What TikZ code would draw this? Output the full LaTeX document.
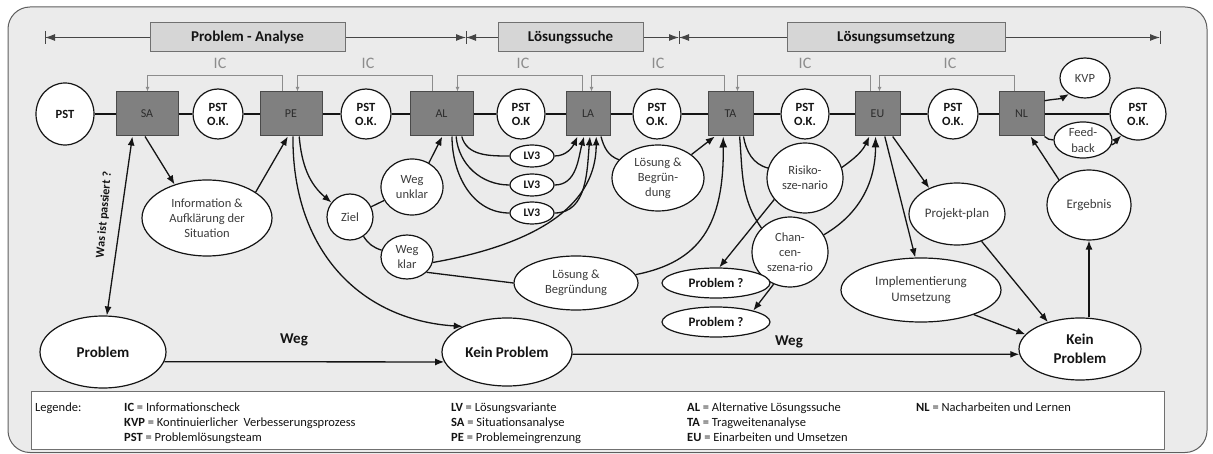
\documentclass[tikz,border=0pt]{standalone}
\usepackage{fontspec}
\setmainfont{Carlito}
\usetikzlibrary{arrows.meta,shapes.geometric,calc}
\definecolor{framefill}{HTML}{EBEBEB}
\definecolor{frameedge}{HTML}{5E5E5E}
\definecolor{boxfill}{HTML}{808080}
\definecolor{boxedge}{HTML}{4A4A4A}
\definecolor{boxtext}{HTML}{2B2B2B}
\definecolor{phasefill}{HTML}{D6D6D6}
\definecolor{phaseedge}{HTML}{707070}
\definecolor{phaseline}{HTML}{454545}
\definecolor{icgrey}{HTML}{8C8C8C}
\definecolor{ovaltext}{HTML}{3C3C3C}
\definecolor{ink}{HTML}{141414}
\begin{document}
\begin{tikzpicture}[x=1pt,y=-1pt,
  stepbox/.style={draw=boxedge, fill=boxfill, line width=1pt, minimum height=44pt,
    inner sep=0pt, text=boxtext, font=\fontsize{12}{14}\selectfont},
  pst/.style={ellipse, draw=ink, fill=white, line width=1.2pt, inner sep=0pt, align=center,
    text=ink, font=\bfseries\fontsize{12.5}{14}\selectfont},
  oval/.style={ellipse, draw=ink, fill=white, line width=1.2pt, inner sep=0pt, align=center,
    text=ovaltext, font=\fontsize{12.5}{15}\selectfont},
  boldoval/.style={oval, text=ink, font=\bfseries\fontsize{15}{19}\selectfont},
  phase/.style={draw=phaseedge, fill=phasefill, line width=1pt, minimum height=29pt,
    inner sep=0pt, text=ink, font=\bfseries\fontsize{15}{18}\selectfont},
  phasearrow/.style={draw=phaseline, line width=1pt, -{Latex[length=10pt,width=7pt]}},
  icline/.style={draw=icgrey, line width=1pt, -{Latex[length=4.5pt,width=4pt]}},
  iclabel/.style={text=icgrey, font=\fontsize{16}{18}\selectfont},
  conn/.style={draw=ink, line width=1.3pt},
  tip/.style={-{Latex[length=9pt,width=7pt]}},
  weglabel/.style={text=ink, font=\bfseries\fontsize{15}{18}\selectfont},
  legtext/.style={anchor=base west, inner sep=0pt, text=ink, font=\fontsize{12.5}{14}\selectfont},
]
\useasboundingbox (0,0) rectangle (1213,454);

% frame
\draw[draw=frameedge, fill=framefill, line width=1pt, rounded corners=22pt] (8,7) rectangle (1207,452.5);

% phase bar
\node[phase, minimum width=195pt] (pa) at (247.5,37.5) {Problem - Analyse};
\node[phase, minimum width=145pt] (ls) at (570.5,37.5) {Lösungssuche};
\node[phase, minimum width=218pt] (lu) at (896,37.5) {Lösungsumsetzung};
\coordinate (t0) at (45,37.5);
\coordinate (t1) at (466,37.5);
\coordinate (t2) at (679,37.5);
\coordinate (t3) at (1160,37.5);
\foreach \t in {t0,t1,t2,t3}
  \draw[draw=phaseline, line width=1pt] (\t) ++(0,-6.5) -- ++(0,13);
\draw[phasearrow] (pa.west) -- (t0);
\draw[phasearrow] (pa.east) -- (t1);
\draw[phasearrow] (ls.west) -- (t1);
\draw[phasearrow] (ls.east) -- (t2);
\draw[phasearrow] (lu.west) -- (t2);
\draw[phasearrow] (lu.east) -- (t3);

% main process row
\node[pst, minimum width=58pt, minimum height=62pt] (PST0) at (65,114) {PST};
\node[stepbox, minimum width=62pt] (SA) at (147,114) {SA};
\node[pst, minimum width=50pt, minimum height=50pt] (OK1) at (218,114) {PST\\O.K.};
\node[stepbox, minimum width=62pt] (PE) at (291,114) {PE};
\node[pst, minimum width=50pt, minimum height=50pt] (OK2) at (366,114) {PST\\O.K.};
\node[stepbox, minimum width=63pt] (AL) at (441.5,114) {AL};
\node[pst, minimum width=48pt, minimum height=50pt] (OK3) at (521,114) {PST\\O.K};
\node[stepbox, minimum width=44pt] (LA) at (588,114) {LA};
\node[pst, minimum width=48pt, minimum height=50pt] (OK4) at (657,114) {PST\\O.K.};
\node[stepbox, minimum width=45pt] (TA) at (730.5,114) {TA};
\node[pst, minimum width=48pt, minimum height=50pt] (OK5) at (805,114) {PST\\O.K.};
\node[stepbox, minimum width=45pt] (EU) at (877.5,114) {EU};
\node[pst, minimum width=50pt, minimum height=50pt] (OK6) at (953,114) {PST\\O.K.};
\node[stepbox, minimum width=45pt] (NL) at (1021.5,114) {NL};
\node[pst, minimum width=56pt, minimum height=52pt] (PSTf) at (1138,114) {PST\\O.K.};
\node[oval, minimum width=50pt, minimum height=40pt] (KVP) at (1085,78) {KVP};
\node[oval, minimum width=58pt, minimum height=36pt, font=\fontsize{12.5}{16}\selectfont] (Feed) at (1083,140) {Feed-\\back};

\draw[conn] (PST0) -- (SA) -- (OK1) -- (PE) -- (OK2) -- (AL) -- (OK3) -- (LA) -- (OK4)
  -- (TA) -- (OK5) -- (EU) -- (OK6) -- (NL) -- (PSTf);

% information checks
\draw[icline] (PE.north west) ++(23,0) -- ++(0,-16) -| ($(SA.north west)+(32,0)$);
\draw[icline] (AL.north west) ++(23,0) -- ++(0,-16) -| ($(PE.north west)+(38,0)$);
\draw[icline] (LA.north west) ++(17,0) -- ++(0,-16) -| ($(AL.north west)+(48,0)$);
\draw[icline] (TA.north west) ++(17,0) -- ++(0,-16) -| ($(LA.north west)+(26,0)$);
\draw[icline] (EU.north west) ++(16,0) -- ++(0,-16) -| ($(TA.north west)+(30,0)$);
\draw[icline] (NL.north west) ++(16,0) -- ++(0,-16) -| ($(EU.north west)+(25,0)$);
\foreach \x in {220,368,523,658,805,950}
  \node[iclabel] at (\x,63) {IC};

% middle nodes
\node[oval, minimum width=130pt, minimum height=76pt] (Info) at (207,218) {Information \&\\Aufklärung der\\Situation};
\node[oval, minimum width=46pt, minimum height=46pt] (Ziel) at (350,217) {Ziel};
\node[oval, minimum width=62pt, minimum height=56pt] (WegU) at (412,187) {Weg\\unklar};
\node[oval, minimum width=52pt, minimum height=44pt] (WegK) at (407,257) {Weg\\klar};
\node[oval, minimum width=44pt, minimum height=22pt, text=ink, font=\bfseries\fontsize{11.5}{13}\selectfont] (LV3a) at (532,156) {LV3};
\node[oval, minimum width=44pt, minimum height=22pt, text=ink, font=\bfseries\fontsize{11.5}{13}\selectfont] (LV3b) at (532,185) {LV3};
\node[oval, minimum width=44pt, minimum height=22pt, text=ink, font=\bfseries\fontsize{11.5}{13}\selectfont] (LV3c) at (532,213) {LV3};
\node[oval, minimum width=92pt, minimum height=66pt] (LoesUp) at (658,178) {Lösung \&\\Begrün-\\dung};
\node[oval, minimum width=124pt, minimum height=54pt] (LoesLow) at (576,283) {Lösung \&\\Begründung};
\node[oval, minimum width=76pt, minimum height=70pt] (Risiko) at (805,178) {Risiko-\\sze-nario};
\node[oval, minimum width=76pt, minimum height=70pt] (Chancen) at (790,252) {Chan-\\cen-\\szena-rio};
\node[oval, minimum width=108pt, minimum height=30pt, text=ink, font=\bfseries\fontsize{13}{15}\selectfont] (Prob1) at (716,283) {Problem ?};
\node[oval, minimum width=108pt, minimum height=30pt, text=ink, font=\bfseries\fontsize{13}{15}\selectfont] (Prob2) at (716,322) {Problem ?};
\node[oval, minimum width=96pt, minimum height=62pt, font=\fontsize{13}{16}\selectfont] (Projekt) at (957,214) {Projekt-plan};
\node[oval, minimum width=160pt, minimum height=64pt, font=\fontsize{13}{16}\selectfont] (Impl) at (921,290) {Implementierung\\Umsetzung};
\node[oval, minimum width=84pt, minimum height=70pt, font=\fontsize{13}{16}\selectfont] (Ergebnis) at (1089,205) {Ergebnis};

% bottom row
\node[boldoval, minimum width=126pt, minimum height=72pt] (Problem) at (103,352) {Problem};
\node[boldoval, minimum width=130pt, minimum height=68pt] (KeinMid) at (507,352) {Kein Problem};
\node[boldoval, minimum width=122pt, minimum height=62pt] (KeinR) at (1080,349) {Kein\\Problem};
\node[weglabel] at (294,340) {Weg};
\node[weglabel] at (789,342) {Weg};

% connectors: analysis
\draw[conn, {Latex[length=9pt,width=7pt]}-{Latex[length=9pt,width=7pt]}] (SA.237) -- (Problem.84);
\node[rotate=85, text=ink, font=\bfseries\fontsize{12}{14}\selectfont] at (104,215) {Was ist passiert ?};
\draw[conn, tip] (SA.265) -- (Info.134);
\draw[conn, tip] (Info.28) -- (PE.262);
\draw[conn, tip] (PE.290) to[out=-85,in=140] (Ziel.142);
\draw[conn, tip] (PE.275) .. controls (292,250) and (360,320) .. (KeinMid.150);
\draw[conn] (Ziel) -- (WegU);
\draw[conn] (Ziel) to[bend right=20] (WegK);
\draw[conn, tip] (WegU.55) -- (AL.272);

% connectors: solution search
\draw[conn] (AL.312) to[out=-75,in=180] (LV3a.west);
\draw[conn] (AL.303) to[out=-85,in=180] (LV3b.west);
\draw[conn] (AL.295) to[out=-90,in=180] (LV3c.west);
\draw[conn, tip] (LV3a.east) to[out=0,in=-115] (LA.245);
\draw[conn, tip] (LV3b.east) to[out=0,in=-105] (LA.260);
\draw[conn, tip] (LV3c.east) to[out=0,in=-95] (LA.275);
\draw[conn, tip] (WegK.-12) to[out=10,in=-90] (LA.290);
\draw[conn] (WegK.-38) -- (LoesLow.west);
\draw[conn] (LA.300) to[out=-75,in=160] (LoesUp.155);
\draw[conn, tip] (LoesUp.35) -- (TA.235);
\draw[conn, -{Latex[length=11pt,width=8pt]}] (LoesLow.8) .. controls (700,262) and (724,225) .. (TA.252);

% connectors: implementation
\draw[conn] (TA.300) to[out=-80,in=165] (Risiko.165);
\draw[conn] (TA.292) to[out=-85,in=125] (Chancen.140);
\draw[conn, tip] (Risiko.215) -- (Prob1.78);
\draw[conn, tip] (Chancen.243) -- (Prob2.17);
\draw[conn, tip] (Risiko.16) to[out=35,in=-115] (EU.250);
\draw[conn, -{Latex[length=11pt,width=8pt]}] (Chancen.27) to[out=30,in=-90] (EU.265);
\draw[conn, tip] (EU.288) -- (Impl.100);
\draw[conn, tip] (EU.304) -- (Projekt.137);
\draw[conn, tip] (Projekt.312) -- (KeinR.140);
\draw[conn, tip] (Impl.335) -- (KeinR.165);
\draw[conn, tip] (Ergebnis.south |- KeinR.north) -- (Ergebnis.south);
\draw[conn, tip] (Ergebnis.140) -- (NL.292);
\draw[conn, tip] (NL.30) to[out=10,in=210] (KVP.225);
\draw[conn] (NL.south east) to[out=-40,in=180] (Feed.west);
\draw[conn, tip] (Feed.-10) to[out=20,in=225] (PSTf.232);

% path of the solution
\draw[conn, tip] (Problem.-9.4) -- (KeinMid.189.1);
\draw[conn, tip] (KeinMid.-2.7) -- (KeinR.185.7);

% legend
\node[draw=phaseedge, fill=white, line width=1pt, anchor=north west, minimum width=1133pt,
  minimum height=58pt, inner sep=0pt] (legend) at (31,391) {};
\node[legtext] at (35,411) {Legende:};
\node[legtext] at (124,411) {\textbf{IC} = Informationscheck};
\node[legtext] at (124,426) {\textbf{KVP} = Kontinuierlicher\ \ Verbesserungsprozess};
\node[legtext] at (124,441) {\textbf{PST} = Problemlösungsteam};
\node[legtext] at (451,411) {\textbf{LV} = Lösungsvariante};
\node[legtext] at (451,426) {\textbf{SA} = Situationsanalyse};
\node[legtext] at (451,441) {\textbf{PE} = Problemeingrenzung};
\node[legtext] at (687,411) {\textbf{AL} = Alternative Lösungssuche};
\node[legtext] at (687,426) {\textbf{TA} = Tragweitenanalyse};
\node[legtext] at (687,441) {\textbf{EU} = Einarbeiten und Umsetzen};
\node[legtext] at (916,411) {\textbf{NL} = Nacharbeiten und Lernen};
\end{tikzpicture}
\end{document}
